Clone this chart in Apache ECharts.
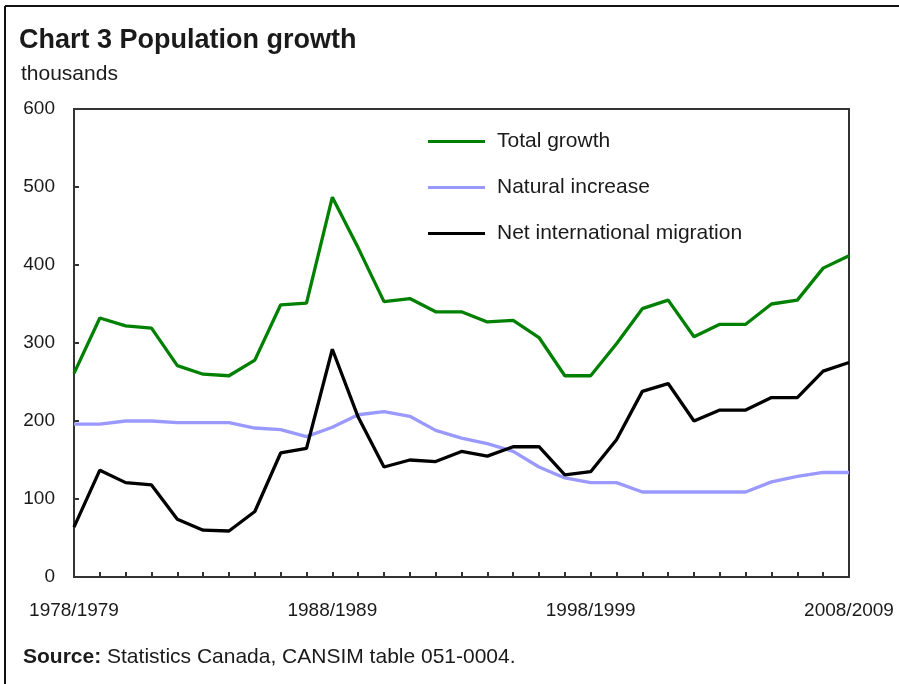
<!DOCTYPE html>
<html>
<head>
<meta charset="utf-8">
<script src="https://cdn.jsdelivr.net/npm/echarts@6/dist/echarts.min.js"></script>
<style>
html,body{margin:0;padding:0;background:#fff;}
#c{width:899px;height:684px;}
</style>
</head>
<body>
<div id="c"></div>
<script>
var categories = ['1978/1979','1979/1980','1980/1981','1981/1982','1982/1983','1983/1984','1984/1985','1985/1986','1986/1987','1987/1988',
  '1988/1989','1989/1990','1990/1991','1991/1992','1992/1993','1993/1994','1994/1995','1995/1996','1996/1997','1997/1998',
  '1998/1999','1999/2000','2000/2001','2001/2002','2002/2003','2003/2004','2004/2005','2005/2006','2006/2007','2007/2008','2008/2009'];
var shownLabels = ['1978/1979','1988/1989','1998/1999','2008/2009'];
var totalGrowth = [261,332,322,319,271,260,258,278,349,351,487,422,353,357,340,340,327,329,307,258,258,299,344,355,308,324,324,350,355,396,412];
var naturalIncrease = [196,196,200,200,198,198,198,191,189,180,192,208,212,206,188,178,171,161,141,127,121,121,109,109,109,109,109,122,129,134,134];
var netMigration = [64,137,121,118,74,60,59,84,159,165,292,205,141,150,148,161,155,167,167,131,135,176,238,248,200,214,214,230,230,264,275];
var seriesNames = ['Total growth','Natural increase','Net international migration'];
var yTicks = [0,100,200,300,400,500,600];

var FONT = '"Liberation Sans", Arial, sans-serif';
var TXT = '#1a1a1a';
var chart = echarts.init(document.getElementById('c'), null, {renderer:'canvas'});
chart.setOption({
  animation:false,
  backgroundColor:'#fff',
  textStyle:{fontFamily:FONT},
  title:{
    text:'Chart 3 Population growth',
    left:19, top:27, padding:0,
    textStyle:{fontFamily:FONT,fontSize:27,fontWeight:'bold',color:TXT}
  },
  graphic:[
    {type:'line',shape:{x1:5,y1:6,x2:5,y2:684},style:{stroke:'#111',lineWidth:2},silent:true},
    {type:'line',shape:{x1:5,y1:6,x2:899,y2:6},style:{stroke:'#111',lineWidth:2},silent:true},
    {type:'text',left:21,top:64,style:{text:'thousands',font:'21px '+FONT,fill:TXT}},
    {type:'text',left:23,top:647,style:{
      text:'{b|Source:} Statistics Canada, CANSIM table 051-0004.',
      font:'21px '+FONT,fill:TXT,
      rich:{b:{fontWeight:'bold',fontSize:21,fontFamily:FONT,fill:TXT}}
    }}
  ],
  legend:{
    orient:'vertical',
    left:428, top:131, padding:0,
    icon:'rect',
    itemWidth:57, itemHeight:3, itemGap:25,
    data:seriesNames,
    textStyle:{fontFamily:FONT,fontSize:21,color:TXT,padding:[0,0,0,7]}
  },
  grid:{left:74,right:50,top:109,bottom:107,show:true,borderColor:'#333',borderWidth:2,backgroundColor:'transparent'},
  xAxis:{
    type:'category',
    data:categories,
    boundaryGap:false,
    axisLine:{show:true,lineStyle:{color:'#333',width:2}},
    axisTick:{show:true,inside:true,length:5,interval:0,lineStyle:{color:'#333',width:2}},
    axisLabel:{
      interval:0,margin:24,fontFamily:FONT,fontSize:19,color:TXT,
      formatter:function(v){return shownLabels.indexOf(v)>=0?v:'';}
    },
    splitLine:{show:false}
  },
  yAxis:{
    type:'value',min:yTicks[0],max:yTicks[yTicks.length-1],interval:100,
    axisLine:{show:true,lineStyle:{color:'#333',width:2}},
    axisTick:{show:true,inside:true,length:5,lineStyle:{color:'#333',width:2}},
    axisLabel:{margin:19,fontFamily:FONT,fontSize:19,color:TXT},
    splitLine:{show:false}
  },
  series:[
    {name:seriesNames[0],type:'line',data:totalGrowth,symbol:'none',lineStyle:{color:'#008000',width:3.3},itemStyle:{color:'#008000'},z:3},
    {name:seriesNames[1],type:'line',data:naturalIncrease,symbol:'none',lineStyle:{color:'#9999ff',width:3.3},itemStyle:{color:'#9999ff'},z:2},
    {name:seriesNames[2],type:'line',data:netMigration,symbol:'none',lineStyle:{color:'#000000',width:3.3},itemStyle:{color:'#000000'},z:4}
  ]
});
</script>
</body>
</html>
